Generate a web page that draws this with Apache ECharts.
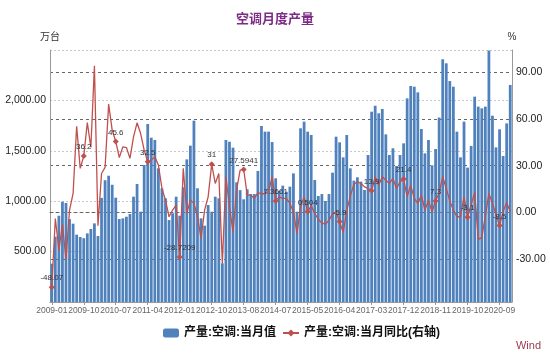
<!DOCTYPE html>
<html><head><meta charset="utf-8">
<script src="https://cdn.jsdelivr.net/npm/echarts@6/dist/echarts.min.js"></script>
<style>html,body{margin:0;padding:0;background:#fff}#c{width:550px;height:357px}</style>
</head><body><div id="c"></div>
<script>
const categories = [
 '2009-01','2009-02','2009-03','2009-04','2009-05','2009-06','2009-07','2009-08','2009-09','2009-10','2009-11','2009-12',
 '2010-01','2010-02','2010-03','2010-04','2010-05','2010-06','2010-07','2010-08','2010-09','2010-10','2010-11','2010-12',
 '2011-01','2011-02','2011-03','2011-04','2011-05','2011-06','2011-07','2011-08','2011-09','2011-10','2011-11','2011-12',
 '2012-01','2012-02','2012-03','2012-04','2012-05','2012-06','2012-07','2012-08','2012-09','2012-10','2012-11','2012-12',
 '2013-02','2013-03','2013-04','2013-05','2013-06','2013-07','2013-08','2013-09','2013-10','2013-11','2013-12',
 '2014-03','2014-04','2014-05','2014-06','2014-07','2014-08','2014-09','2014-10','2014-11','2014-12',
 '2015-02','2015-03','2015-04','2015-05','2015-06','2015-07','2015-08','2015-09','2015-10','2015-11','2015-12',
 '2016-03','2016-04','2016-05','2016-06','2016-07','2016-08','2016-09','2016-10','2016-11','2016-12',
 '2017-03','2017-04','2017-05','2017-06','2017-07','2017-08','2017-09','2017-10','2017-11','2017-12',
 '2018-03','2018-04','2018-05','2018-06','2018-07','2018-08','2018-09','2018-10','2018-11','2018-12',
 '2019-03','2019-04','2019-05','2019-06','2019-07','2019-08','2019-09','2019-10','2019-11','2019-12',
 '2020-03','2020-04','2020-05','2020-06','2020-07','2020-08','2020-09','2020-10','2020-11','2020-12'
];
// 产量:空调:当月值 (万台)
const output = [
 380,648,856,995,982,822,777,668,645,633,681,724,
 780,655,1033,1208,1253,1163,1035,823,830,846,873,1045,
 1171,896,1359,1766,1630,1607,1326,1128,1029,813,880,1045,
 856,1138,1415,1551,1799,1128,830,757,962,896,1045,1029,
 384,1607,1590,1531,1187,1110,1019,1118,1071,1071,1300,
 1746,1690,1690,1587,1227,1104,1154,1094,1144,1276,
 896,1723,1789,1690,1657,1210,1052,1071,1002,1071,1283,
 1640,1584,1435,1657,1326,1204,1237,1194,1111,1458,
 1888,1947,1872,1915,1663,1458,1525,1349,1458,1574,
 2020,2143,2136,2080,1716,1475,1607,1356,1518,1830,
 2408,2368,2192,2136,1690,1435,1789,1333,1548,2037,
 1938,1921,1938,2495,1848,1534,1713,1448,1772,2153
];
// 产量:空调:当月同比 (%)
const yoy = [
 -48.07,-3.9,-24.2,-7.7,-30.2,1.5,12.2,55.4,28.3,36.2,57.8,41.7,
 94.2,-8.6,25,28.9,69.6,52.9,45.6,35.3,42.1,41.7,34.7,48.6,
 57.6,50.7,40,32.5,33.6,35.7,30.4,15.4,7.9,-2.8,1.5,4.7,
 -28.7209,28.3,-0.6,7.9,5.8,-2.8,-16.7,1.5,10,31,18.6,25,
 -32.8,22.9,3.6,-12.5,14.3,27.2,27.5941,11.1,11.1,9,12.6,
 12,12,13.2,22.9,7.3661,10,9,9,5.8,0.4,
 -13.5,3.6,10,0.504,4.2,-0.6,-4.4,-6.9,-7.6,-5,-1,
 0.5,-5.9,-13,1,10.5,18,19.7,18.6,16.4,15.4,
 13.9,22.9,17.5,22.9,20.7,18.6,21.8,15.4,19.7,21.4,
 10,17.5,9,5.8,11.1,1.5,7.9,0.4,7.3,12.7,
 22.9,15.4,7.4,1.5,-2.8,-2.8,10,-3.1,5,12.7,
 -17.3,-16.2,-2.2,12.2,5.8,-1.2,-8.5,0.5,6.3,0.4
];
const markedEvery = 9;
const leftTicks = [0, 500, 1000, 1500, 2000, 2500];
const rightTicks = [-30, 0, 30, 60, 90];

const FONT = "'Liberation Sans','Noto Sans CJK SC',sans-serif";
const fmt = v => v.toLocaleString('en-US', {minimumFractionDigits: 2, maximumFractionDigits: 2});

const yoyData = yoy.map((v, i) => i % markedEvery === 0
  ? {value: v, label: {show: true}}
  : {value: v, symbol: 'none'});

const chart = echarts.init(document.getElementById('c'), null, {renderer: 'canvas'});
chart.setOption({
  animation: false,
  textStyle: {fontFamily: FONT},
  title: {
    text: '空调月度产量', left: 'center', top: 8,
    textStyle: {fontSize: 13, fontWeight: 'bold', color: '#7E2B86', fontFamily: FONT}
  },
  legend: {
    left: 158, top: 322, itemGap: 6, itemWidth: 16, itemHeight: 9,
    textStyle: {fontSize: 12, color: '#111', fontWeight: 'bold', fontFamily: FONT},
    data: ['产量:空调:当月值', '产量:空调:当月同比(右轴)']
  },
  graphic: [{
    type: 'text', right: 9, top: 340,
    style: {text: 'Wind', fontSize: 11, fill: '#9C3A55', fontFamily: FONT}
  }],
  grid: {left: 50, right: 38, top: 50, bottom: 55},
  xAxis: [{
    type: 'category', data: categories, boundaryGap: true,
    axisLine: {lineStyle: {color: '#999'}},
    axisTick: {show: true, interval: markedEvery - 1, alignWithLabel: true, length: 3, lineStyle: {color: '#999'}},
    axisLabel: {interval: markedEvery - 1, fontSize: 8.5, color: '#666', margin: 4, fontFamily: FONT}
  }, {
    type: 'category', data: categories, position: 'top',
    axisLine: {lineStyle: {color: '#666', type: [3, 3]}},
    axisTick: {show: false}, axisLabel: {show: false}
  }],
  yAxis: [{
    type: 'value', min: leftTicks[0], max: leftTicks[leftTicks.length - 1], interval: 500,
    name: '万台', nameLocation: 'end', nameGap: 8,
    nameTextStyle: {fontSize: 10, color: '#333', align: 'center', fontFamily: FONT},
    axisLine: {show: true, lineStyle: {color: '#999'}},
    axisTick: {show: false},
    axisLabel: {fontSize: 10.5, color: '#222', margin: 4, fontFamily: FONT,
      formatter: v => (v === leftTicks[0] || v === leftTicks[leftTicks.length - 1]) ? '' : fmt(v)},
    splitLine: {show: true, lineStyle: {color: '#c8c8c8', type: [2, 2]}}
  }, {
    type: 'value', min: -57.6, max: 104.4, position: 'right',
    name: '%', nameLocation: 'end', nameGap: 8,
    nameTextStyle: {fontSize: 10, color: '#333', align: 'center', fontFamily: FONT},
    axisLine: {show: true, lineStyle: {color: '#999'}},
    axisTick: {show: false, customValues: rightTicks},
    axisLabel: {fontSize: 10.5, color: '#222', margin: 4, customValues: rightTicks, fontFamily: FONT,
      formatter: v => fmt(v)},
    splitLine: {show: true, lineStyle: {color: '#666', type: [3, 3]}}
  }],
  series: [{
    name: '产量:空调:当月值', type: 'bar', data: output,
    barCategoryGap: '22%',
    itemStyle: {color: '#4F81BD'}
  }, {
    name: '产量:空调:当月同比(右轴)', type: 'line', yAxisIndex: 1, data: yoyData,
    symbol: 'diamond', symbolSize: 6, showSymbol: true,
    lineStyle: {color: '#C0504D', width: 1.3},
    itemStyle: {color: '#C0504D'},
    label: {show: false, position: 'top', fontSize: 8, color: '#333', distance: 2, fontFamily: FONT},
    z: 5
  }]
});
</script></body></html>
